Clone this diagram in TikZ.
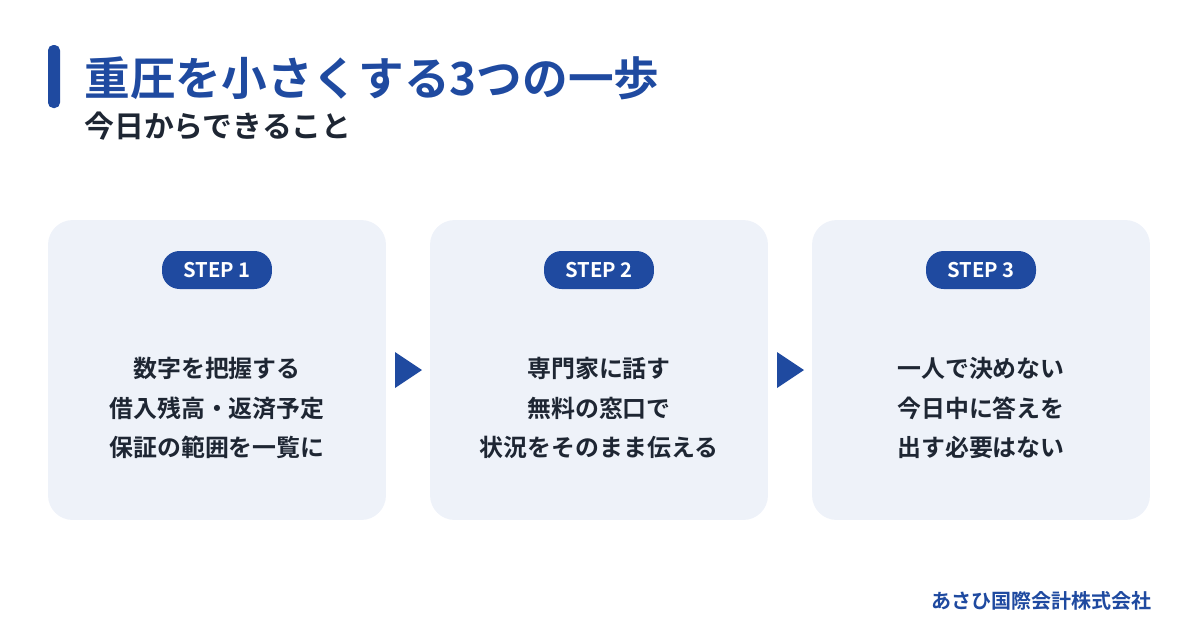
\documentclass[tikz,border=0pt]{standalone}
\usepackage{fontspec}
\setmainfont{Noto Sans CJK JP}[BoldFont={* Bold}]
\usetikzlibrary{positioning}
\definecolor{navy}{HTML}{1F4AA0}
\definecolor{ink}{HTML}{1E2633}
\definecolor{card}{HTML}{EEF2F9}
\begin{document}
\begin{tikzpicture}[x=0.02cm,y=-0.02cm,
        stepbox/.style={fill=card, rounded corners=14pt, minimum width=6.76cm, minimum height=6cm, inner sep=0pt},
        pill/.style={fill=navy, text=white, rounded corners=10pt, minimum width=2.2cm, minimum height=0.76cm, font=\bfseries\fontsize{11.5}{13}\selectfont},
        body/.style={text=ink, align=center, font=\bfseries\fontsize{13.6}{22.7}\selectfont},
        next/.style={fill=navy}
    ]
    \useasboundingbox (0,0) rectangle (1200,630);

    % Title
    \fill[navy, rounded corners=3pt] (48,45) rectangle (60,108);
    \node[anchor=west, text=navy, font=\bfseries\fontsize{26}{30}\selectfont, inner sep=0pt] (title) at (84,78) {重圧を小さくする3つの一歩};
    \node[anchor=west, text=ink, font=\bfseries\fontsize{17}{20}\selectfont, inner sep=0pt] (sub) at (84,126) {今日からできること};

    % Cards
    \node[stepbox] (s1) at (217,370) {};
    \node[stepbox] (s2) at (599,370) {};
    \node[stepbox] (s3) at (981,370) {};

    \node[pill] (p1) at (217,270) {STEP 1};
    \node[pill] (p2) at (599,270) {STEP 2};
    \node[pill] (p3) at (981,270) {STEP 3};

    \node[body] (t1) at (217,408) {数字を把握する\\借入残高・返済予定\\保証の範囲を一覧に};
    \node[body] (t2) at (599,408) {専門家に話す\\無料の窓口で\\状況をそのまま伝える};
    \node[body] (t3) at (981,408) {一人で決めない\\今日中に答えを\\出す必要はない};

    % Arrows
    \fill[next] (395,352) -- (422,370) -- (395,388) -- cycle;
    \fill[next] (777,352) -- (804,370) -- (777,388) -- cycle;

    % Footer
    \node[anchor=east, text=navy, font=\bfseries\fontsize{11.4}{13}\selectfont, inner sep=0pt] (brand) at (1152,601) {あさひ国際会計株式会社};
\end{tikzpicture}
\end{document}
